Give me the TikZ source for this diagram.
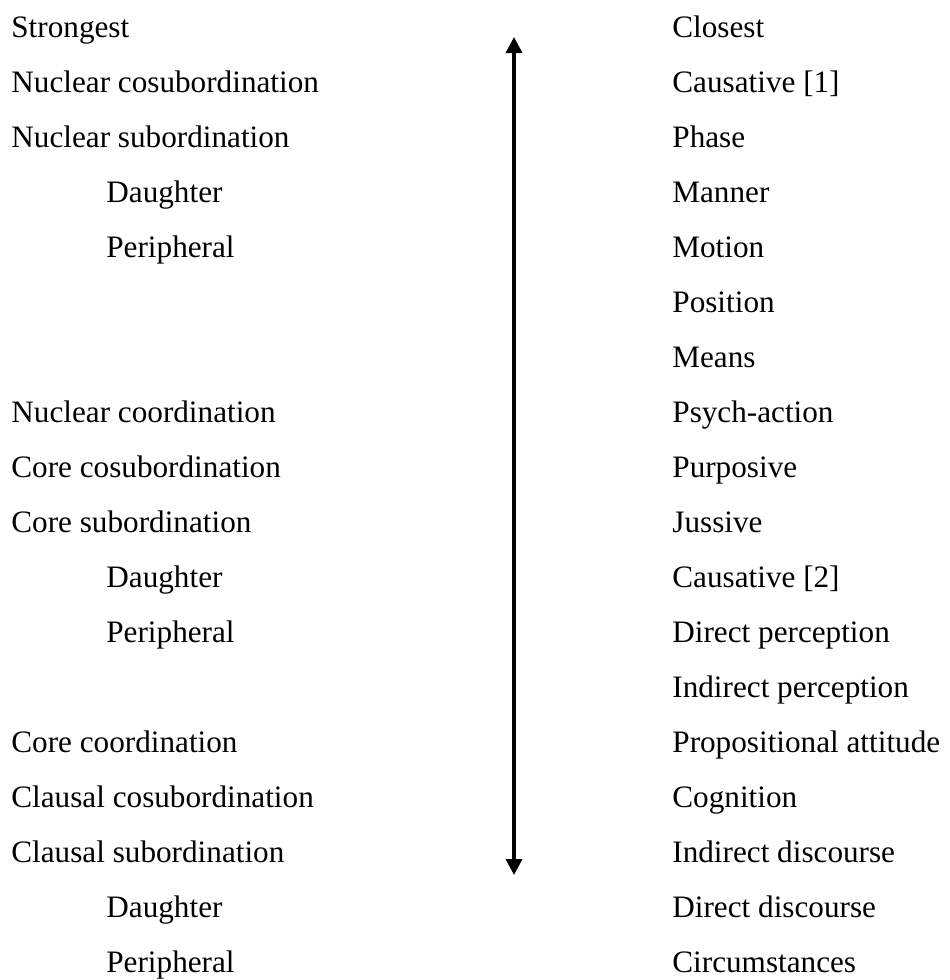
\documentclass[tikz,border=0pt]{standalone}
\usepackage{fontspec}
\setmainfont{Liberation Serif}
\usetikzlibrary{arrows.meta}

\begin{document}
\begin{tikzpicture}[
    x=0.5pt,y=-0.5pt,
    lbl/.style={anchor=base west,inner sep=0pt,font=\fontsize{15.6}{19}\selectfont},
    scale arrow/.style={line width=1.75pt,
      {Triangle[length=8pt,width=8pt]}-{Triangle[length=8pt,width=8pt]}}
  ]
  \useasboundingbox (0,0) rectangle (949,980);
  % left column: row / indent / text
  \foreach \i/\x/\t in {
      1/11/Strongest, 2/11/Nuclear cosubordination, 3/11/Nuclear subordination,
      4/106/Daughter, 5/106/Peripheral,
      8/11/Nuclear coordination, 9/11/Core cosubordination, 10/11/Core subordination,
      11/106/Daughter, 12/106/Peripheral,
      14/11/Core coordination, 15/11/Clausal cosubordination, 16/11/Clausal subordination,
      17/106/Daughter, 18/106/Peripheral}
    \node[lbl] (l-\i) at (\x,{37+55*(\i-1)}) {\t};
  % right column
  \foreach \i/\t in {
      1/Closest, 2/{Causative [1]}, 3/Phase, 4/Manner, 5/Motion, 6/Position,
      7/Means, 8/Psych-action, 9/Purposive, 10/Jussive, 11/{Causative [2]},
      12/Direct perception, 13/Indirect perception, 14/Propositional attitude,
      15/Cognition, 16/Indirect discourse, 17/Direct discourse, 18/Circumstances}
    \node[lbl] (r-\i) at (672,{37+55*(\i-1)}) {\t};
  \coordinate (a-top) at (514,37);
  \coordinate (a-bot) at (514,875);
  \draw[scale arrow] (a-top) -- (a-bot);
\end{tikzpicture}
\end{document}
